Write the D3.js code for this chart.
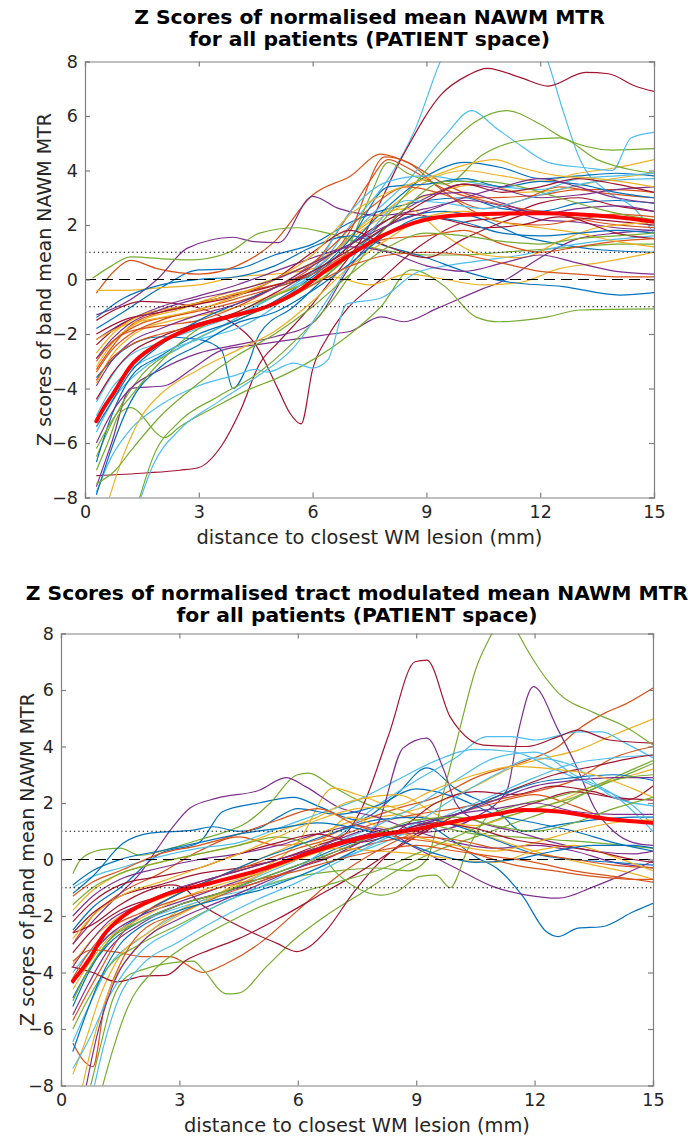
<!DOCTYPE html>
<html><head><meta charset="utf-8">
<script src="https://cdn.jsdelivr.net/npm/d3@7"></script>
<style>
html,body{margin:0;padding:0;background:#fff;}
svg{display:block;}
text{font-family:"DejaVu Sans",sans-serif;}
</style></head>
<body><svg id="chart" width="688" height="1137"></svg>
<script>
// ---------------- DATA ----------------
const xTicks = [0, 3, 6, 9, 12, 15];
const yTicks = [-8, -6, -4, -2, 0, 2, 4, 6, 8];
const titles1 = ["Z Scores of normalised mean NAWM MTR", "for all patients (PATIENT space)"];
const titles2 = ["Z Scores of normalised tract modulated mean NAWM MTR", "for all patients (PATIENT space)"];
const xLabel = "distance to closest WM lesion (mm)";
const yLabel = "Z scores of band mean NAWM MTR";
const refLines = [0, 1, -1];

// patient curves, panel 1 ([distance mm, z score])
const patients1 = [
 [[0.3,-1.8],[1,-1.2],[2,-0.3],[3,0.35],[4,0.4],[5,0.9],[6,1.3],[7,2.1],[8,2.6],[9,2.9],[10,3.0],[11,2.6],[12,2.5],[13,2.8],[14,2.9],[15,2.8]],
 [[0.3,-0.5],[0.8,0.35],[1.2,0.7],[1.9,0.4],[3,0.2],[4,0.5],[5,1.4],[6,3.1],[7,3.8],[7.8,4.6],[8.5,4.3],[9.5,3.5],[10.5,3.0],[12,3.1],[13,3.3],[14,3.3],[15,3.2]],
 [[0.3,-0.4],[1,-0.4],[2,-0.3],[3,-0.2],[4,0.1],[5,0.2],[6,0.4],[7,1.6],[8,2.6],[9,3.6],[10,4.0],[11,3.8],[12,3.6],[13,3.9],[14,4.1],[15,4.4]],
 [[0.3,-1.3],[1,-0.9],[1.9,0.0],[2.7,1.15],[3.9,1.55],[4.4,1.4],[5.1,1.35],[6,3.05],[6.7,2.6],[7.8,2.35],[9,2.6],[10,2.9],[11,2.7],[12,2.2],[13,2.1],[14,1.9],[15,1.8]],
 [[0.2,0.05],[0.7,0.5],[1.2,0.83],[2.2,0.75],[2.8,0.72],[3.8,1.0],[4.6,1.7],[5.6,1.9],[6.4,1.7],[7.8,1.1],[9,0.9],[10,0.9],[11,1.0],[12,1.1],[13,1.2],[14,1.3],[15,1.3]],
 [[0.3,-4.5],[1,-3.0],[2,-2.3],[3,-1.8],[4,-1.3],[5,-0.6],[6,0.2],[7,2.0],[8,3.7],[8.7,5.5],[9.4,8.1],[10.5,10],[11.5,10],[12.2,8.0],[12.6,6.2],[13.05,4.4],[13.8,3.2],[14.45,2.65],[15,1.7]],
 [[0.3,-7.2],[1.6,-7.1],[2.5,-7.0],[3,-6.9],[3.6,-6.1],[4.1,-4.8],[4.6,-3.1],[5.1,-2.3],[6,-0.9],[6.5,0],[7.3,1.5],[8.4,4.6],[9.4,6.8],[10.1,7.5],[10.6,7.75],[11.5,7.4],[12.2,7.1],[13.2,7.6],[13.8,7.55],[14.5,7.1],[15,6.9]],
 [[0.3,-3.6],[1,-2.6],[2,-2.1],[3,-2.2],[3.6,-2.6],[3.9,-4.0],[4.3,-3.1],[4.6,-2.0],[5.5,-1.0],[6.5,0.3],[7.5,1.5],[8.5,2.3],[9.5,2.5],[10.5,2.2],[11.5,1.6],[12.5,1.3],[13.5,1.1],[15,1.0]],
 [[0.3,-3.3],[0.7,-2.5],[1.2,-1.7],[2,-1.2],[3,-0.9],[4,-0.5],[5,-0.2],[6,0.3],[7,1.8],[7.9,4.5],[8.5,4.3],[9.3,3.4],[10,2.7],[11,2.1],[12,2.0],[13,2.2],[14,2.4],[15,2.3]],
 [[0.3,-3.2],[0.8,-2.2],[1.5,-1.5],[2.5,-1.1],[3.5,-0.6],[4.5,-0.2],[5.5,0.3],[6.5,1.0],[7.5,2.0],[8.5,2.8],[9.5,3.3],[10.5,3.5],[11.5,3.2],[12.5,3.3],[13.5,3.6],[15,3.9]],
 [[0.3,-7.6],[0.7,-6.0],[1.2,-4.0],[2.1,-3.9],[2.8,-3.3],[3.6,-2.6],[4.5,-2.4],[5.5,-2.2],[6.5,-2.0],[7,-1.9],[7.8,-1.37],[8.4,-1.55],[9.3,-1.05],[10.4,-0.39],[11.1,0.0],[12,0.8],[13,1.5],[14,1.7],[15,1.8]],
 [[0.3,-6.5],[0.8,-5.0],[1.5,-3.5],[2.5,-2.5],[3.5,-1.8],[4.5,-1.2],[5.5,-0.6],[6.5,0.3],[7.5,1.6],[8.5,3.2],[9.5,4.8],[10.3,5.8],[11.1,6.2],[12,5.7],[12.6,5.2],[13.9,4.75],[15,4.8]],
 [[0.3,-5.6],[0.8,-4.3],[1.5,-3.3],[2.5,-2.5],[3.5,-1.8],[4.5,-1.0],[5.5,-0.2],[6.5,0.9],[7.5,2.3],[8.5,3.6],[9.5,5.3],[10.2,6.2],[10.8,5.6],[11.5,4.9],[12.2,4.3],[13.2,4.1],[13.9,4.0],[14.4,5.2],[15,5.4]],
 [[0.3,-1.5],[0.8,-1.1],[1.5,-0.8],[2.5,-0.9],[3.5,-1.3],[4.0,-1.7],[4.45,-2.3],[5.1,-4.05],[5.4,-4.9],[5.7,-5.3],[6.0,-3.3],[6.4,-2.1],[6.9,-1.1],[7.8,0.0],[8.8,1.2],[10,2.1],[11,2.3],[12,2.8],[13,3.0],[14,2.7],[15,2.5]],
 [[0.3,-6.7],[0.7,-5.0],[1.2,-3.6],[2,-2.8],[3,-2.0],[4,-1.5],[5,-0.8],[6,0.1],[7,1.3],[8,2.7],[9,3.8],[10,4.3],[11,4.1],[12,3.7],[13,3.8],[14,3.9],[15,3.8]],
 [[0.3,-2.9],[0.8,-2.2],[1.5,-1.6],[2.5,-1.3],[3.5,-1.0],[4.5,-0.6],[5.5,0.1],[6.5,1.2],[7.5,2.6],[8.5,3.4],[9.5,3.1],[10.5,2.6],[11.5,2.9],[12.5,3.4],[13.5,3.2],[15,3.0]],
 [[0.3,-3.8],[0.7,-2.8],[1.3,-2.0],[2.3,-1.5],[3.5,-1.2],[4.5,-0.8],[5.5,-0.3],[6.5,0.1],[7.5,-0.2],[8.5,0.2],[9.5,0.0],[10.5,-0.2],[11.5,-0.1],[12.5,0.4],[13.5,0.6],[15,1.0]],
 [[0.3,-2.2],[1,-1.6],[2,-1.0],[3,-0.6],[4,-0.2],[5,0.3],[6,0.8],[7,1.3],[8,2.2],[9,3.0],[10,3.5],[11,3.3],[12,3.0],[13,3.1],[14,3.3],[15,3.4]],
 [[0.3,-7.0],[0.6,-6.0],[0.92,-4.9],[1.2,-4.7],[2.1,-5.8],[2.5,-5.4],[3.4,-4.7],[4.3,-4.05],[5.1,-3.6],[6,-2.95],[6.9,-2.1],[7.8,-1.0],[8.6,0.35],[9.5,-0.27],[10.3,-1.37],[10.9,-1.55],[12.2,-1.37],[13.05,-1.12],[15,-1.08]],
 [[0.3,-7.8],[0.7,-6.5],[1.2,-5.5],[2,-4.6],[3,-3.9],[4,-3.5],[4.5,-3.3],[4.8,-3.4],[5.5,-3.07],[6,-3.25],[6.4,-2.95],[6.9,-0.9],[7.8,-0.68],[8.7,0.23],[9.5,0.5],[10.5,0.7],[11.5,0.9],[12.5,1.2],[13.5,1.4],[15,1.6]],
 [[0.3,-2.4],[0.8,-1.8],[1.5,-1.3],[2.5,-1.0],[3.5,-0.7],[4.5,-0.4],[5.5,0.0],[6.5,0.7],[7.5,1.8],[8.5,2.4],[9.5,2.2],[10.5,1.9],[11.5,2.0],[12.5,2.3],[13.5,2.2],[15,2.0]],
 [[0.3,-1.4],[1,-0.7],[2,-0.2],[3,0.0],[4,0.1],[5,0.5],[6,1.2],[7,1.6],[8,1.2],[9,0.8],[10,0.3],[11.1,-0.08],[12.6,-0.26],[14.1,-0.57],[15,-0.48]],
 [[0.3,-3.0],[0.7,-2.3],[1.2,-1.9],[2,-1.7],[3,-1.5],[4,-1.0],[5,-0.3],[6,0.5],[7,2.5],[7.5,3.6],[8,4.4],[8.5,4.1],[9.5,3.3],[10.5,2.9],[11.5,2.6],[12.5,2.4],[13.5,2.1],[15,1.9]],
 [[0.3,-2.7],[0.8,-1.9],[1.5,-1.3],[2.5,-1.0],[3.5,-0.7],[4.5,-0.3],[5.5,0.3],[6.5,0.9],[7.5,2.2],[8.5,2.6],[9.5,1.6],[10.5,0.9],[11.5,0.8],[12.5,1.4],[13.5,1.9],[15,2.1]],
 [[0.3,-6.0],[0.7,-4.9],[1.2,-4.0],[2,-3.3],[3,-2.7],[4,-2.4],[5,-2.1],[6,-1.6],[7,0.5],[8,2.0],[9,3.1],[10,3.2],[11,2.8],[12,2.4],[13,2.6],[14,2.7],[15,2.5]],
 [[0.3,-6.2],[0.7,-5.2],[1.2,-4.3],[2,-3.0],[3,-1.8],[4,-1.2],[5,-0.6],[6,0.0],[6.8,0.8],[7.5,3.0],[8,4.3],[8.5,3.9],[9.5,3.5],[10.5,4.6],[11.5,5.1],[12.5,5.2],[13.5,4.4],[14.5,4.0],[15,3.9]],
 [[0.3,-5.0],[0.7,-4.0],[1.2,-3.3],[2,-2.7],[3,-2.2],[4,-1.8],[5,-1.0],[6,0.3],[7,2.5],[8,3.6],[9,3.8],[10,3.6],[11,3.4],[12,3.3],[13,3.7],[14,3.8],[15,3.9]],
 [[0.3,-2.0],[1,-1.5],[2,-1.2],[3,-0.9],[4,-0.6],[5,0.0],[6,1.0],[7,1.8],[8,1.2],[9,0.8],[10,1.5],[11,2.1],[12,2.5],[13,2.2],[14,1.7],[15,1.5]],
 [[0.3,-5.4],[0.7,-4.5],[1.2,-3.4],[2,-2.4],[3,-1.5],[4,-0.9],[5,-0.3],[6,0.2],[7,1.5],[8,3.4],[9,3.5],[10,3.7],[11,3.4],[12,3.6],[13,3.5],[14,3.2],[15,3.0]],
 [[0.3,-3.4],[0.7,-2.6],[1.2,-2.0],[2,-1.5],[3,-1.1],[4,-0.7],[5,-0.3],[6,0.2],[7,1.0],[8,1.5],[9,1.6],[10,1.8],[11,1.3],[12,1.0],[13,1.2],[14,1.4],[15,1.5]],
 [[0.6,-8.2],[1,-6.5],[1.5,-5.0],[2,-4.2],[3,-3.3],[4,-2.6],[5,-1.9],[6,-0.8],[7,0.5],[8,1.5],[9,2.3],[10,2.5],[11,2.1],[12,1.9],[13,1.7],[14,1.4],[15,1.2]],
 [[0.3,-3.9],[0.7,-3.0],[1.2,-2.3],[2,-1.8],[3,-1.3],[4,-0.9],[5,-0.3],[6,0.5],[7,1.2],[8,1.0],[9,0.5],[10,0.3],[11,0.6],[12,0.9],[13,0.6],[14,0.3],[15,0.2]],
 [[1.4,-8.2],[1.8,-6.5],[2.5,-5.2],[3.5,-4.3],[4.5,-3.5],[5.5,-2.3],[6.5,-0.8],[7.5,1.2],[8.5,2.7],[9.5,3.6],[10.5,3.6],[11.5,3.4],[12.5,3.0],[13.5,2.6],[14.5,2.3],[15,2.2]],
 [[1.4,-8.3],[1.8,-6.8],[2.5,-5.5],[3.5,-4.5],[4.5,-3.6],[5.5,-2.5],[6.5,-0.5],[7.5,1.7],[8.5,2.9],[9.5,2.8],[10.5,2.6],[11.5,2.9],[12.5,3.3],[13.5,3.6],[15,3.7]],
 [[0.3,-4.4],[0.7,-3.5],[1.2,-2.7],[2,-2.1],[3,-1.6],[4,-1.2],[5,-0.5],[6,0.3],[7,1.1],[8,2.0],[9,2.9],[10,3.5],[11,3.2],[12,3.4],[13,3.7],[14,3.5],[15,3.2]],
 [[0.3,-7.9],[0.7,-6.2],[1.2,-4.5],[2,-3.2],[3,-2.4],[4,-1.6],[5,-1.2],[6,-0.4],[7,0.6],[8,1.7],[9,2.3],[10,2.1],[11,1.7],[12,1.6],[13,1.7],[14,1.8],[15,1.7]],
 [[0.3,-3.7],[0.7,-2.9],[1.2,-2.4],[2,-2.0],[3,-1.7],[4,-1.3],[5,-0.9],[6,-0.2],[7,0.5],[8,0.9],[9,1.0],[10,0.9],[11,0.6],[12,0.3],[13,0.2],[14,0.1],[15,0.1]],
 [[0.3,-2.2],[1,-1.7],[2,-1.4],[3,-1.1],[4,-0.6],[5,0.0],[6,0.9],[7,2.4],[8,3.2],[9,3.7],[10,4.2],[10.8,4.4],[11.5,4.1],[12.5,3.8],[13.5,3.7],[15,3.4]],
 [[0.3,-2.9],[0.7,-2.2],[1.2,-1.6],[2,-1.1],[3,-0.7],[4,-0.4],[5,0.0],[6,0.6],[7,1.3],[8,2.0],[9,2.5],[10,3.0],[11,3.4],[12,3.7],[13,3.4],[14,3.0],[15,2.8]],
 [[0.3,-7.5],[0.8,-7.0],[1.2,-6.3],[2,-5.0],[3,-3.8],[4,-2.8],[5,-2.0],[6,-1.0],[7,0.2],[8,1.2],[9,1.7],[10,1.6],[11,1.4],[12,1.3],[13,1.5],[14,1.6],[15,1.7]]
];
const mean1 = [[0.3,-5.2],[0.5,-4.7],[0.75,-4.18],[1.19,-3.2],[1.89,-2.4],[2.77,-1.79],[3.82,-1.36],[4.79,-1.0],[5.66,-0.39],[6.37,0.35],[7.1,1.0],[7.78,1.57],[8.65,2.07],[9.9,2.37],[12,2.43],[13.9,2.3],[15,2.12]];

// patient curves, panel 2
const patients2 = [
 [[0.3,-2.5],[0.8,-1.7],[1.5,-1.0],[2.5,0.2],[3.5,0.6],[4.1,1.7],[5,2.0],[5.9,2.2],[6.5,1.9],[7.5,1.4],[8.5,2.3],[9.27,3.24],[10,2.5],[11,1.8],[11.7,1.0],[12.5,1.2],[13.5,1.4],[14.5,1.5],[15,1.5]],
 [[0.3,-3.0],[0.8,-2.0],[1.5,-1.2],[2.5,-0.5],[3.5,0.3],[4.5,0.8],[5.5,0.5],[6.5,0.7],[7.5,1.3],[8.5,1.8],[9.5,2.2],[10.5,2.9],[11.8,3.5],[12.6,4.0],[13.1,4.6],[13.8,5.2],[14.3,5.5],[15,6.07]],
 [[0.3,-3.7],[0.8,-2.8],[1.5,-2.0],[2.5,-1.4],[3.5,-0.9],[4.5,-0.3],[5.5,0.3],[6.5,0.9],[7.5,1.4],[8.5,1.6],[9.5,2.0],[10.5,2.6],[11.5,3.3],[12.3,3.6],[13.1,3.87],[13.9,4.35],[15,4.97]],
 [[0.3,-2.0],[0.8,-1.3],[1.5,-0.7],[2.5,-0.3],[3.5,0.0],[4.5,0.2],[5.5,0.5],[6.5,0.9],[7.5,1.2],[8.5,0.9],[9.5,1.0],[10.5,1.5],[11.3,2.46],[11.6,4.6],[11.97,6.12],[12.6,4.58],[13.1,3.17],[13.5,1.87],[14,1.0],[14.5,0.6],[15,0.5]],
 [[0.3,-0.5],[0.5,0.0],[1.0,0.34],[1.5,0.4],[2,0.15],[2.8,0.4],[3.5,0.7],[4.0,0.9],[4.7,1.3],[5.3,2.0],[5.97,2.99],[6.27,3.06],[6.9,2.57],[7.6,2.05],[8.5,1.6],[9.5,1.2],[10.5,0.9],[11.5,0.8],[12.5,0.7],[13.5,0.6],[15,0.4]],
 [[0.3,-6.45],[0.7,-5.2],[1.2,-3.8],[2,-2.8],[3,-1.9],[4,-1.3],[5,-0.6],[6,0.0],[7,0.8],[8,1.9],[9,2.8],[10,3.6],[10.8,4.35],[11.4,4.35],[12.05,4.23],[13.1,4.52],[13.7,4.52],[14.3,4.12],[15,3.6]],
 [[0.3,-2.6],[0.8,-1.9],[1.5,-1.3],[2.5,-0.9],[3.5,-0.5],[4.5,-0.3],[5.5,0.0],[6.5,0.5],[7.2,0.9],[7.6,1.75],[8.3,4.4],[8.97,7.0],[9.27,7.06],[9.86,5.05],[10.1,4.58],[10.7,4.05],[11.8,4.0],[12.6,4.35],[13.1,4.58],[13.9,4.23],[15,4.12]],
 [[0.3,-4.9],[0.7,-3.9],[1.2,-3.0],[2,-2.2],[3,-1.6],[4,-1.2],[5,-0.7],[6,-0.2],[7,0.4],[8,0.9],[9,1.3],[10,0.6],[10.5,0.1],[11.1,-0.37],[11.7,-1.3],[12.3,-2.56],[12.6,-2.73],[13.1,-2.43],[13.7,-2.38],[14.5,-1.85],[15,-1.55]],
 [[0.3,-3.6],[0.8,-3.2],[1.5,-3.3],[2.08,-3.44],[2.76,-3.44],[3.6,-4.0],[4.2,-3.67],[5.04,-2.96],[6,-1.8],[7,-0.6],[8,0.3],[9,1.0],[10,1.6],[11,2.0],[12,2.3],[13,1.9],[14,1.4],[15,1.3]],
 [[0.3,-7.6],[0.6,-6.5],[1,-4.8],[1.5,-3.4],[2.2,-2.6],[3,-1.8],[4,-1.2],[5,-0.4],[6,0.6],[6.9,2.53],[7.5,2.3],[8.5,1.8],[9.5,1.4],[10.5,1.2],[11.5,1.6],[12.5,2.0],[13.5,2.6],[14.5,3.0],[15,3.2]],
 [[0.3,-3.0],[0.8,-2.2],[1.5,-1.2],[2.0,-0.5],[2.42,0.34],[2.84,1.16],[3.27,1.82],[3.95,2.17],[5.04,2.46],[5.7,2.9],[6.2,2.58],[7.0,1.87],[8,1.5],[9,1.0],[10,0.6],[11,0.4],[12,0.5],[13,0.3],[14,-0.1],[15,-0.3]],
 [[0.7,-8.3],[1.0,-6.6],[1.3,-5.0],[1.66,-4.15],[2.08,-3.9],[2.76,-3.67],[3.35,-3.6],[3.6,-3.9],[4.2,-4.76],[4.5,-4.73],[5.2,-3.8],[5.9,-2.85],[6.7,-2.0],[7.6,-1.2],[8.5,-0.4],[9.5,0.3],[10.5,0.8],[11.5,1.3],[12.5,1.8],[13.5,2.5],[14.5,3.1],[15,3.4]],
 [[0.3,-1.0],[0.8,-0.6],[1.5,-0.3],[2.5,0.1],[3.5,0.4],[4.5,0.6],[5.5,1.1],[6.5,1.6],[7.5,2.1],[8.5,2.8],[9.5,3.5],[10.5,3.9],[11.5,3.8],[12.5,3.2],[13.5,2.6],[14.5,1.9],[15,1.2]],
 [[0.3,-2.6],[0.8,-2.3],[1.5,-1.6],[2.2,-1.1],[2.8,-0.9],[3.18,-1.08],[3.52,-1.55],[4.03,-2.0],[4.87,-2.6],[5.46,-2.96],[5.97,-3.26],[6.3,-3.08],[6.73,-2.5],[7.4,-1.19],[8,-0.2],[9,0.9],[10,1.4],[11,1.6],[12,2.0],[13,2.4],[14,2.2],[15,2.1]],
 [[0.3,-1.2],[0.8,-0.6],[1.58,0.58],[2.3,0.94],[3.35,1.04],[3.85,1.16],[4.5,1.0],[5,1.1],[5.5,1.5],[6,1.8],[7,1.6],[8,1.9],[9,2.5],[10,2.2],[11,1.6],[12,1.3],[13,1.0],[14,0.6],[15,0.3]],
 [[0.3,-5.7],[0.6,-4.9],[1,-3.9],[1.5,-2.7],[2,-2.0],[3,-1.2],[4,-0.6],[5,-0.1],[6,0.4],[7,0.8],[8,1.3],[9,1.6],[10,1.8],[11,2.1],[12,2.4],[13,2.8],[14,3.6],[15,4.0]],
 [[0.3,-1.8],[0.8,-1.1],[1.5,-0.5],[2.5,-0.1],[3.5,0.2],[4.5,0.5],[5.5,1.0],[6.5,1.5],[7.2,2.0],[7.8,2.2],[8.5,2.3],[9.5,1.6],[10.5,1.0],[11.5,0.5],[12.5,0.1],[13.5,-0.2],[14.5,-0.5],[15,-0.7]],
 [[0.3,-5.5],[0.7,-4.4],[1.2,-3.2],[2,-2.3],[3,-1.6],[4,-1.2],[5,-0.8],[6,-0.3],[7,0.2],[8,1.2],[8.67,3.95],[9.27,4.3],[9.7,3.17],[10.0,2.0],[10.5,1.4],[11.5,1.0],[12.5,0.6],[13.5,0.3],[14.5,0.2],[15,0.3]],
 [[0.3,-6.0],[0.7,-4.9],[1.2,-3.8],[2,-3.0],[3,-2.3],[4,-1.6],[5,-1.0],[6,-0.6],[7,-0.4],[8,-0.3],[8.8,-0.4],[9.27,0.0],[9.7,2.4],[10.1,4.6],[10.5,6.7],[10.95,8.1],[11.25,9.0],[11.55,8.1],[11.97,7.06],[12.6,5.9],[13.5,5.2],[14.3,4.7],[15,4.05]],
 [[0.3,-4.0],[0.7,-3.3],[1.2,-2.7],[2,-2.2],[3,-1.7],[4,-1.3],[5,-1.0],[6,-0.6],[7,0.0],[8,0.5],[9,1.1],[10,1.7],[11,2.3],[12,2.9],[13,3.4],[14,3.6],[15,3.7]],
 [[0.27,-3.8],[0.8,-4.0],[1.41,-4.33],[2.08,-4.13],[2.68,-4.09],[3.18,-3.56],[3.77,-3.2],[4.5,-2.8],[5.5,-2.1],[6.5,-1.3],[7.5,-0.5],[8.5,0.4],[9.5,1.2],[10.5,1.9],[11.5,2.5],[12.5,3.0],[13.5,3.3],[14.5,3.6],[15,3.7]],
 [[0.3,-5.2],[0.7,-4.0],[1.2,-2.9],[2,-2.0],[3,-1.2],[4,-0.6],[5,0.0],[6,0.5],[7,1.0],[8,1.4],[9,1.5],[10,1.2],[11,0.7],[12,0.2],[13,0.0],[14,-0.1],[15,-0.2]],
 [[0.3,-6.5],[0.56,-7.1],[0.81,-7.33],[1.1,-5.2],[1.5,-3.7],[2,-2.6],[3,-1.9],[4,-1.3],[5,-0.8],[6,-0.3],[7,0.2],[8,0.6],[9,0.8],[10,0.7],[11,0.4],[12,0.2],[13,0.0],[14,-0.2],[15,-0.3]],
 [[0.5,-8.3],[0.8,-6.5],[1.2,-4.7],[1.8,-3.3],[2.5,-2.4],[3.5,-1.6],[4.5,-0.9],[5.5,-0.2],[6.5,0.5],[7.3,1.5],[8,1.2],[9,0.8],[10,0.5],[11,0.3],[12,0.6],[13,1.0],[14,1.3],[15,1.4]],
 [[0.3,-4.4],[0.7,-3.5],[1.2,-2.7],[2,-2.0],[3,-1.5],[4,-1.0],[5,-0.5],[6,0.1],[7,0.7],[8,1.1],[9,0.4],[10,-0.3],[10.95,-0.96],[11.8,-1.26],[12.6,-1.37],[13.5,-0.96],[14.3,-0.5],[15,-0.05]],
 [[0.3,-1.6],[0.8,-1.0],[1.5,-0.5],[2.5,-0.1],[3.5,0.2],[4.5,0.5],[5.5,0.8],[6.5,0.3],[7.0,-0.5],[7.6,-1.08],[8.1,-1.26],[8.5,-1.14],[9.1,-0.6],[9.5,-0.55],[9.86,-1.0],[10.3,0.34],[10.8,1.5],[11.5,1.9],[12.5,2.2],[13.5,2.6],[14.5,3.2],[15,3.5]],
 [[0.3,-7.4],[0.7,-6.4],[1.2,-4.9],[2,-3.3],[3,-2.4],[4,-1.6],[5,-1.0],[6,-0.3],[7,0.6],[8,1.2],[9,1.9],[10,2.8],[11,3.6],[12,3.8],[13,3.0],[14,2.3],[15,1.0]],
 [[0.3,-2.2],[0.8,-1.5],[1.5,-0.9],[2.5,-0.6],[3.5,-0.3],[4.5,0.2],[5.5,0.6],[6.5,0.9],[7.5,0.6],[8.5,1.0],[9.5,2.0],[10.5,2.4],[11.5,2.3],[12.5,2.6],[13.5,2.4],[14.3,2.1],[15,2.6]],
 [[0.3,-6.8],[0.6,-5.6],[1,-4.2],[1.5,-3.0],[2,-2.4],[3,-1.8],[4,-1.4],[5,-1.1],[6,-0.6],[7,0.0],[8,0.7],[9,1.2],[10,1.6],[11,2.2],[12,2.7],[13,2.9],[14,3.0],[15,2.8]],
 [[0.3,-1.3],[0.8,-0.8],[1.5,-0.4],[2.5,0.2],[3.5,0.5],[4.5,0.9],[5.5,1.4],[6.5,1.8],[7.5,1.2],[8.5,0.8],[9.5,0.6],[10.5,0.2],[11.5,-0.2],[12.5,-0.4],[13.5,-0.6],[14.5,-0.7],[15,-0.7]],
 [[0.3,-4.6],[0.7,-3.7],[1.2,-2.8],[2,-2.1],[3,-1.4],[4,-0.9],[5,-0.5],[6,0.0],[7,0.4],[8,0.3],[9,0.2],[10,0.0],[11,-0.1],[12,0.3],[13,0.5],[14,0.1],[15,-0.4]],
 [[0.6,-8.3],[0.9,-6.3],[1.3,-4.5],[2,-3.0],[3,-2.1],[4,-1.5],[5,-0.9],[6,-0.3],[7,0.3],[8,0.8],[9,1.2],[10,1.6],[11,2.1],[12,2.6],[13,2.8],[14,2.9],[15,2.9]],
 [[1.0,-8.3],[1.3,-6.8],[1.7,-5.2],[2.3,-4.0],[3,-3.2],[4,-2.4],[5,-1.7],[6,-1.2],[7,-0.8],[8,-0.4],[9,0.2],[10,0.8],[11,1.4],[12,1.8],[13,2.2],[14,2.8],[15,3.0]],
 [[0.8,-8.3],[1.1,-6.5],[1.5,-4.8],[2,-3.8],[3,-2.9],[4,-2.1],[5,-1.4],[6,-0.8],[7,-0.1],[8,0.6],[9,1.3],[10,2.2],[11,3.0],[12,3.6],[13,3.3],[14,2.2],[15,1.9]],
 [[0.3,-3.3],[0.8,-2.5],[1.5,-1.8],[2.5,-1.3],[3.5,-0.8],[4.5,-0.4],[5.5,0.0],[6.5,0.4],[7.5,0.8],[8.5,1.0],[9.5,1.3],[10.5,1.1],[11.5,0.7],[12.5,0.5],[13.5,0.3],[14.5,0.0],[15,-0.1]],
 [[0.3,-0.9],[0.8,-0.4],[1.5,0.0],[2.5,0.3],[3.5,0.6],[4.5,0.9],[5.5,1.1],[6.5,1.3],[7.5,1.1],[8.5,0.7],[9.5,0.2],[10.5,-0.1],[11.5,0.0],[12.5,0.3],[13.5,0.5],[14.5,0.5],[15,0.4]],
 [[0.3,-4.2],[0.7,-3.3],[1.2,-2.5],[2,-1.9],[3,-1.4],[4,-1.0],[5,-0.7],[6,-0.4],[7,0.0],[8,0.3],[9,0.5],[10,0.3],[11,0.1],[12,-0.1],[13,-0.4],[14,-0.6],[15,-0.8]],
 [[0.3,-2.8],[0.8,-2.0],[1.5,-1.3],[2.5,-0.8],[3.5,-0.3],[4.5,0.2],[5.5,0.8],[6.5,1.4],[7.5,1.8],[8.5,1.9],[9.5,2.5],[10.5,3.0],[11.5,3.3],[12.5,3.2],[13.5,3.0],[14.5,2.5],[15,2.2]],
 [[0.3,-3.8],[0.7,-3.0],[1.2,-2.2],[2,-1.6],[3,-1.0],[4,-0.6],[5,-0.2],[6,0.2],[7,0.6],[8,1.0],[9,1.3],[10,1.6],[11,1.8],[12,2.0],[13,1.7],[14,1.6],[15,1.6]],
 [[0.3,-5.0],[0.7,-3.9],[1.2,-2.9],[2,-2.2],[3,-1.6],[4,-1.2],[5,-0.7],[6,-0.2],[7,0.3],[8,0.9],[9,1.4],[10,1.5],[11,1.2],[12,1.0],[13,1.3],[14,1.8],[15,2.2]]
];
const mean2 = [[0.3,-4.3],[0.5,-3.95],[0.73,-3.5],[1.07,-2.7],[1.58,-2.0],[2.5,-1.32],[3.78,-0.84],[5.04,-0.37],[6.4,0.28],[7.6,0.76],[9,1.07],[10,1.35],[11,1.6],[11.7,1.75],[12.6,1.7],[13.65,1.47],[15,1.3]];

// ---------------- STYLE / LAYOUT ----------------
const lineColors = ["#0072BD","#D95319","#EDB120","#7E2F8E","#77AC30","#4DBEEE","#A2142F"];
const panels = [
  {titles: titles1, data: patients1, mean: mean1, x0: 85, x1: 654, y0: 61.5, y1: 497.5, titleY: 24, ylabX: 51},
  {titles: titles2, data: patients2, mean: mean2, x0: 61, x1: 653, y0: 633.5, y1: 1085.5, titleY: 600, ylabX: 34}
];

const svg = d3.select("#chart");
const axisCol = "#262626";

panels.forEach((p, pi) => {
  const x = d3.scaleLinear().domain([0, 15]).range([p.x0, p.x1]);
  const y = d3.scaleLinear().domain([-8, 8]).range([p.y1, p.y0]);
  const g = svg.append("g");
  const clipId = "clip" + pi;
  svg.append("clipPath").attr("id", clipId).append("rect")
    .attr("x", p.x0).attr("y", p.y0).attr("width", p.x1 - p.x0).attr("height", p.y1 - p.y0);

  const line = d3.line().x(d => x(d[0])).y(d => y(d[1])).curve(d3.curveMonotoneX);
  const plot = g.append("g").attr("clip-path", `url(#${clipId})`);
  plot.selectAll("path.pt").data(p.data).join("path")
    .attr("class", "pt")
    .attr("d", line)
    .attr("fill", "none")
    .attr("stroke", (d, i) => lineColors[i % lineColors.length])
    .attr("stroke-width", 1.2)
    .attr("stroke-linejoin", "round");
  plot.append("path").datum(p.mean).attr("d", line)
    .attr("fill", "none").attr("stroke", "#FF0000").attr("stroke-width", 4)
    .attr("stroke-linejoin", "round").attr("stroke-linecap", "round");
  refLines.forEach(v => {
    plot.append("line").attr("x1", p.x0).attr("x2", p.x1).attr("y1", y(v)).attr("y2", y(v))
      .attr("stroke", "#000").attr("stroke-width", 1.1)
      .attr("stroke-dasharray", v === 0 ? "11,6" : "1.3,3");
  });

  // axes (MATLAB-like box with inward ticks)
  const tl = 5;
  const ax = g.append("g");
  ax.append("g").attr("transform", `translate(0,${p.y1})`)
    .call(d3.axisBottom(x).tickValues(xTicks).tickSize(-tl).tickPadding(8).tickFormat(d3.format("d")));
  ax.append("g").attr("transform", `translate(0,${p.y0})`)
    .call(d3.axisTop(x).tickValues(xTicks).tickSize(-tl).tickFormat(""));
  ax.append("g").attr("transform", `translate(${p.x0},0)`)
    .call(d3.axisLeft(y).tickValues(yTicks).tickSize(-tl).tickPadding(7).tickFormat(d3.format("d")));
  ax.append("g").attr("transform", `translate(${p.x1},0)`)
    .call(d3.axisRight(y).tickValues(yTicks).tickSize(-tl).tickFormat(""));
  ax.selectAll(".domain").attr("stroke", "#808080").attr("stroke-width", 1.2);
  ax.selectAll(".tick line").attr("stroke", "#808080").attr("stroke-width", 1.2);
  ax.selectAll(".tick text").attr("font-family", "DejaVu Sans").attr("font-size", 17.5).attr("fill", axisCol);

  // labels
  g.append("text").attr("x", (p.x0 + p.x1) / 2).attr("y", p.y1 + 46)
    .attr("text-anchor", "middle").attr("font-size", 19.4).attr("fill", axisCol).text(xLabel);
  g.append("text").attr("transform", `translate(${p.ylabX},${(p.y0 + p.y1) / 2}) rotate(-90)`)
    .attr("text-anchor", "middle").attr("font-size", 19).attr("fill", axisCol).text(yLabel);
  p.titles.forEach((t, k) => {
    g.append("text").attr("x", (p.x0 + p.x1) / 2).attr("y", p.titleY + k * 22)
      .attr("text-anchor", "middle").attr("font-size", 20.3).attr("font-weight", "bold")
      .attr("fill", "#000").text(t);
  });
});
</script></body></html>
